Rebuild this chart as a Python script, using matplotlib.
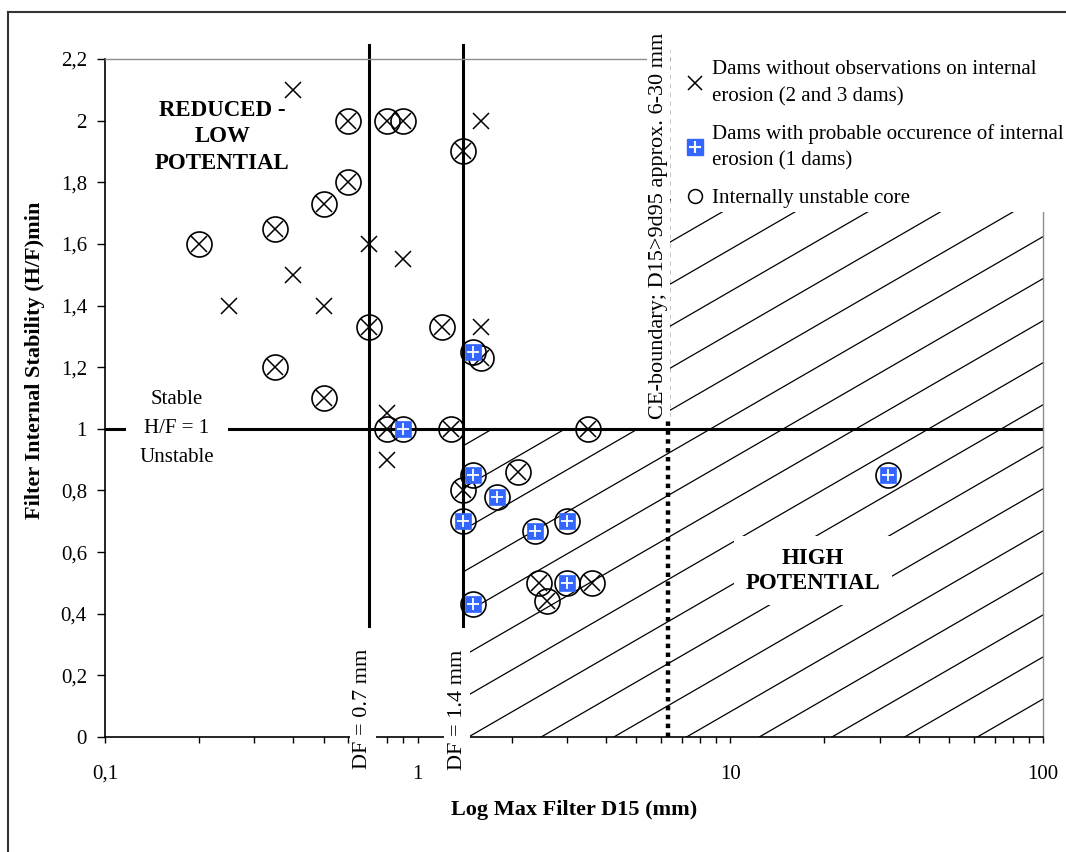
import numpy as np
import matplotlib
matplotlib.use('Agg')
import matplotlib.pyplot as plt
from matplotlib.lines import Line2D
from matplotlib.patches import Polygon, Rectangle
from matplotlib.ticker import FixedLocator, FuncFormatter, NullFormatter

plt.rcParams['font.family'] = ['Liberation Serif', 'DejaVu Serif']

# --- data ---
# dams without observations on internal erosion, no unstable core
cross_x = [0.4, 1.6, 0.7, 0.9, 0.4, 0.25, 0.5, 1.6, 0.8, 0.8]
cross_y = [2.1, 2.0, 1.6, 1.55, 1.5, 1.4, 1.4, 1.33, 1.05, 0.9]

# dams without observations, internally unstable core
circ_cross_x = [0.6, 0.8, 0.9, 1.4, 0.6, 0.5, 0.35, 0.2, 0.7, 1.2, 1.6,
                0.35, 0.5, 0.8, 1.28, 3.5, 2.1, 1.4, 2.45, 2.6, 3.6]
circ_cross_y = [2.0, 2.0, 2.0, 1.9, 1.8, 1.73, 1.65, 1.6, 1.33, 1.33, 1.23,
                1.2, 1.1, 1.0, 1.0, 1.0, 0.86, 0.8, 0.5, 0.44, 0.5]

# dams with probable occurence of internal erosion (all unstable core)
prob_x = [1.5, 0.9, 1.5, 1.8, 1.4, 2.37, 3.0, 3.0, 1.5, 32]
prob_y = [1.25, 1.0, 0.85, 0.78, 0.7, 0.67, 0.7, 0.5, 0.43, 0.85]

# boundaries
DF_LOW = 0.7
DF_HIGH = 1.4
CE_BOUND = 6.3
HF_LIMIT = 1.0

y_ticks = [0, 0.2, 0.4, 0.6, 0.8, 1.0, 1.2, 1.4, 1.6, 1.8, 2.0, 2.2]
x_ticks = [0.1, 1, 10, 100]
x_tick_labels = ['0,1', '1', '10', '100']

BLUE = '#3366ff'
W, H = 1066, 852

fig = plt.figure(figsize=(W / 100, H / 100), dpi=100, facecolor='white')
ax = fig.add_axes([105 / W, 1 - 737 / H, (1043 - 105) / W, (737 - 59) / H])

ax.set_xscale('log')
ax.set_xlim(0.1, 100)
ax.set_ylim(0, 2.2)

# spines like the Excel plot area
for s in ['top', 'right']:
    ax.spines[s].set_color('#8c8c8c')
    ax.spines[s].set_linewidth(1.0)
for s in ['left', 'bottom']:
    ax.spines[s].set_color('black')
    ax.spines[s].set_linewidth(1.2)

ax.yaxis.set_major_locator(FixedLocator(y_ticks))
ax.yaxis.set_major_formatter(FuncFormatter(lambda v, p: ('%g' % round(v, 1)).replace('.', ',')))
ax.xaxis.set_major_locator(FixedLocator(x_ticks))
ax.xaxis.set_major_formatter(FuncFormatter(lambda v, p: x_tick_labels[x_ticks.index(v)] if v in x_ticks else ''))
ax.xaxis.set_minor_formatter(NullFormatter())
ax.tick_params(axis='y', direction='out', length=6, width=1, pad=7, labelsize=15)
ax.tick_params(axis='x', which='major', direction='out', length=4, width=1, pad=16, labelsize=15)
ax.tick_params(axis='x', which='minor', direction='out', length=4, width=1)

ax.set_xlabel('Log Max Filter D15 (mm)', fontsize=16, fontweight='bold', labelpad=12)
ax.set_ylabel('Filter Internal Stability (H/F)min', fontsize=16, fontweight='bold')
ax.yaxis.set_label_coords(-0.064, 0.556)

# hatched "high potential" zone: lines at ~30 deg clipped to the zone
zone = Polygon([(DF_HIGH, 0), (100, 0), (100, 1.75), (CE_BOUND, 1.75),
                (CE_BOUND, HF_LIMIT), (DF_HIGH, HF_LIMIT)], closed=True,
               facecolor='none', edgecolor='none', transform=ax.transData)
ax.add_patch(zone)
for c in np.arange(-0.93, 1.0, 0.062):
    ln, = ax.plot([0, 1], [c, c + 0.8], transform=ax.transAxes,
                  color='black', lw=0.9, zorder=1)
    ln.set_clip_path(zone)

# boundary lines
ax.axhline(HF_LIMIT, color='black', lw=2.2, zorder=2)
for df in [DF_LOW, DF_HIGH]:
    ax.plot([df, df], [0.36, 2.245], color='black', lw=2.2, zorder=2, clip_on=False)
ax.plot([CE_BOUND, CE_BOUND], [0, 2.23], color='black', lw=3.2,
        linestyle=(0, (1, 1)), dash_capstyle='butt', zorder=2, clip_on=False)

# data points
ax.plot(circ_cross_x, circ_cross_y, ls='none', marker='o', ms=18, mfc='none',
        mec='black', mew=1.2, zorder=4)
ax.plot(prob_x, prob_y, ls='none', marker='o', ms=18, mfc='none',
        mec='black', mew=1.2, zorder=4)
ax.plot(circ_cross_x, circ_cross_y, ls='none', marker='x', ms=11,
        color='black', mew=1.1, zorder=5)
ax.plot(cross_x, cross_y, ls='none', marker='x', ms=11,
        color='black', mew=1.1, zorder=5)
ax.plot(prob_x, prob_y, ls='none', marker='s', ms=12, mfc=BLUE, mec=BLUE,
        mew=0.5, zorder=5)
ax.plot(prob_x, prob_y, ls='none', marker='+', ms=9, color='white',
        mew=1.3, zorder=6)

# annotations
white = dict(facecolor='white', edgecolor='none', boxstyle='square,pad=0.15')
ax.text(0.17, 1.094, 'Stable', fontsize=15, ha='center', va='center', zorder=4)
ax.text(0.17, 1.0, 'H/F = 1', fontsize=15, ha='center', va='center', zorder=3,
        bbox=dict(facecolor='white', edgecolor='none', boxstyle='square,pad=0.9'))
ax.text(0.17, 0.906, 'Unstable', fontsize=15, ha='center', va='center', zorder=4)

ax.text(0.237, 1.948, 'REDUCED -\nLOW\nPOTENTIAL', fontsize=16.5, fontweight='bold',
        ha='center', va='center', linespacing=1.35, zorder=3)
ax.text(18.4, 0.54, 'HIGH\nPOTENTIAL', fontsize=16.5, fontweight='bold',
        ha='center', va='center', linespacing=1.25, zorder=3,
        bbox=dict(facecolor='white', edgecolor='none', boxstyle='square,pad=0.5'))

ax.text(0.668, 0.09, 'DF = 0.7 mm', fontsize=16, rotation=90, ha='center',
        va='center', zorder=7, clip_on=False, bbox=white)
ax.text(1.336, 0.088, 'DF = 1.4 mm', fontsize=16, rotation=90, ha='center',
        va='center', zorder=7, clip_on=False, bbox=white)
ax.text(5.9, 1.659, 'CE-boundary; D15>9d95 approx. 6-30 mm', fontsize=16,
        rotation=90, ha='center', va='center', zorder=7, clip_on=False,
        bbox=dict(facecolor='white', edgecolor='none', boxstyle='square,pad=0.08'))

# white legend area (covers frame and hatching like the original)
fig.add_artist(Rectangle((671 / W, 1 - 212 / H), (W - 671) / W, (212 - 14) / H,
                         transform=fig.transFigure, facecolor='white',
                         edgecolor='none', zorder=1))

h_cross = Line2D([], [], ls='none', marker='x', color='black', ms=10, mew=1.1)
h_sq = Line2D([], [], ls='none', marker='s', mfc=BLUE, mec=BLUE, ms=11)
h_plus = Line2D([], [], ls='none', marker='+', color='white', ms=9, mew=1.5)
h_circ = Line2D([], [], ls='none', marker='o', mfc='none', mec='black', ms=10, mew=1.1)
leg = fig.legend([h_cross, (h_sq, h_plus), h_circ],
                 ['Dams without observations on internal\nerosion (2 and 3 dams)',
                  'Dams with probable occurence of internal\nerosion (1 dams)',
                  'Internally unstable core'],
                 loc='upper left', bbox_to_anchor=(687 / W, 1 - 60 / H),
                 frameon=False, fontsize=15, handlelength=0.8, handletextpad=0.4,
                 borderpad=0, borderaxespad=0, labelspacing=0.85)
for t in leg.get_texts():
    t.set_linespacing(1.55)

# outer chart frame (left and top edges visible)
fig.add_artist(Line2D([8 / W, 8 / W], [0, 1 - 12 / H], transform=fig.transFigure,
                      color='#333333', lw=1.5, zorder=3))
fig.add_artist(Line2D([8 / W, 1], [1 - 12 / H, 1 - 12 / H], transform=fig.transFigure,
                      color='#333333', lw=1.5, zorder=3))

fig.savefig('out.png', dpi=100, facecolor='white')
